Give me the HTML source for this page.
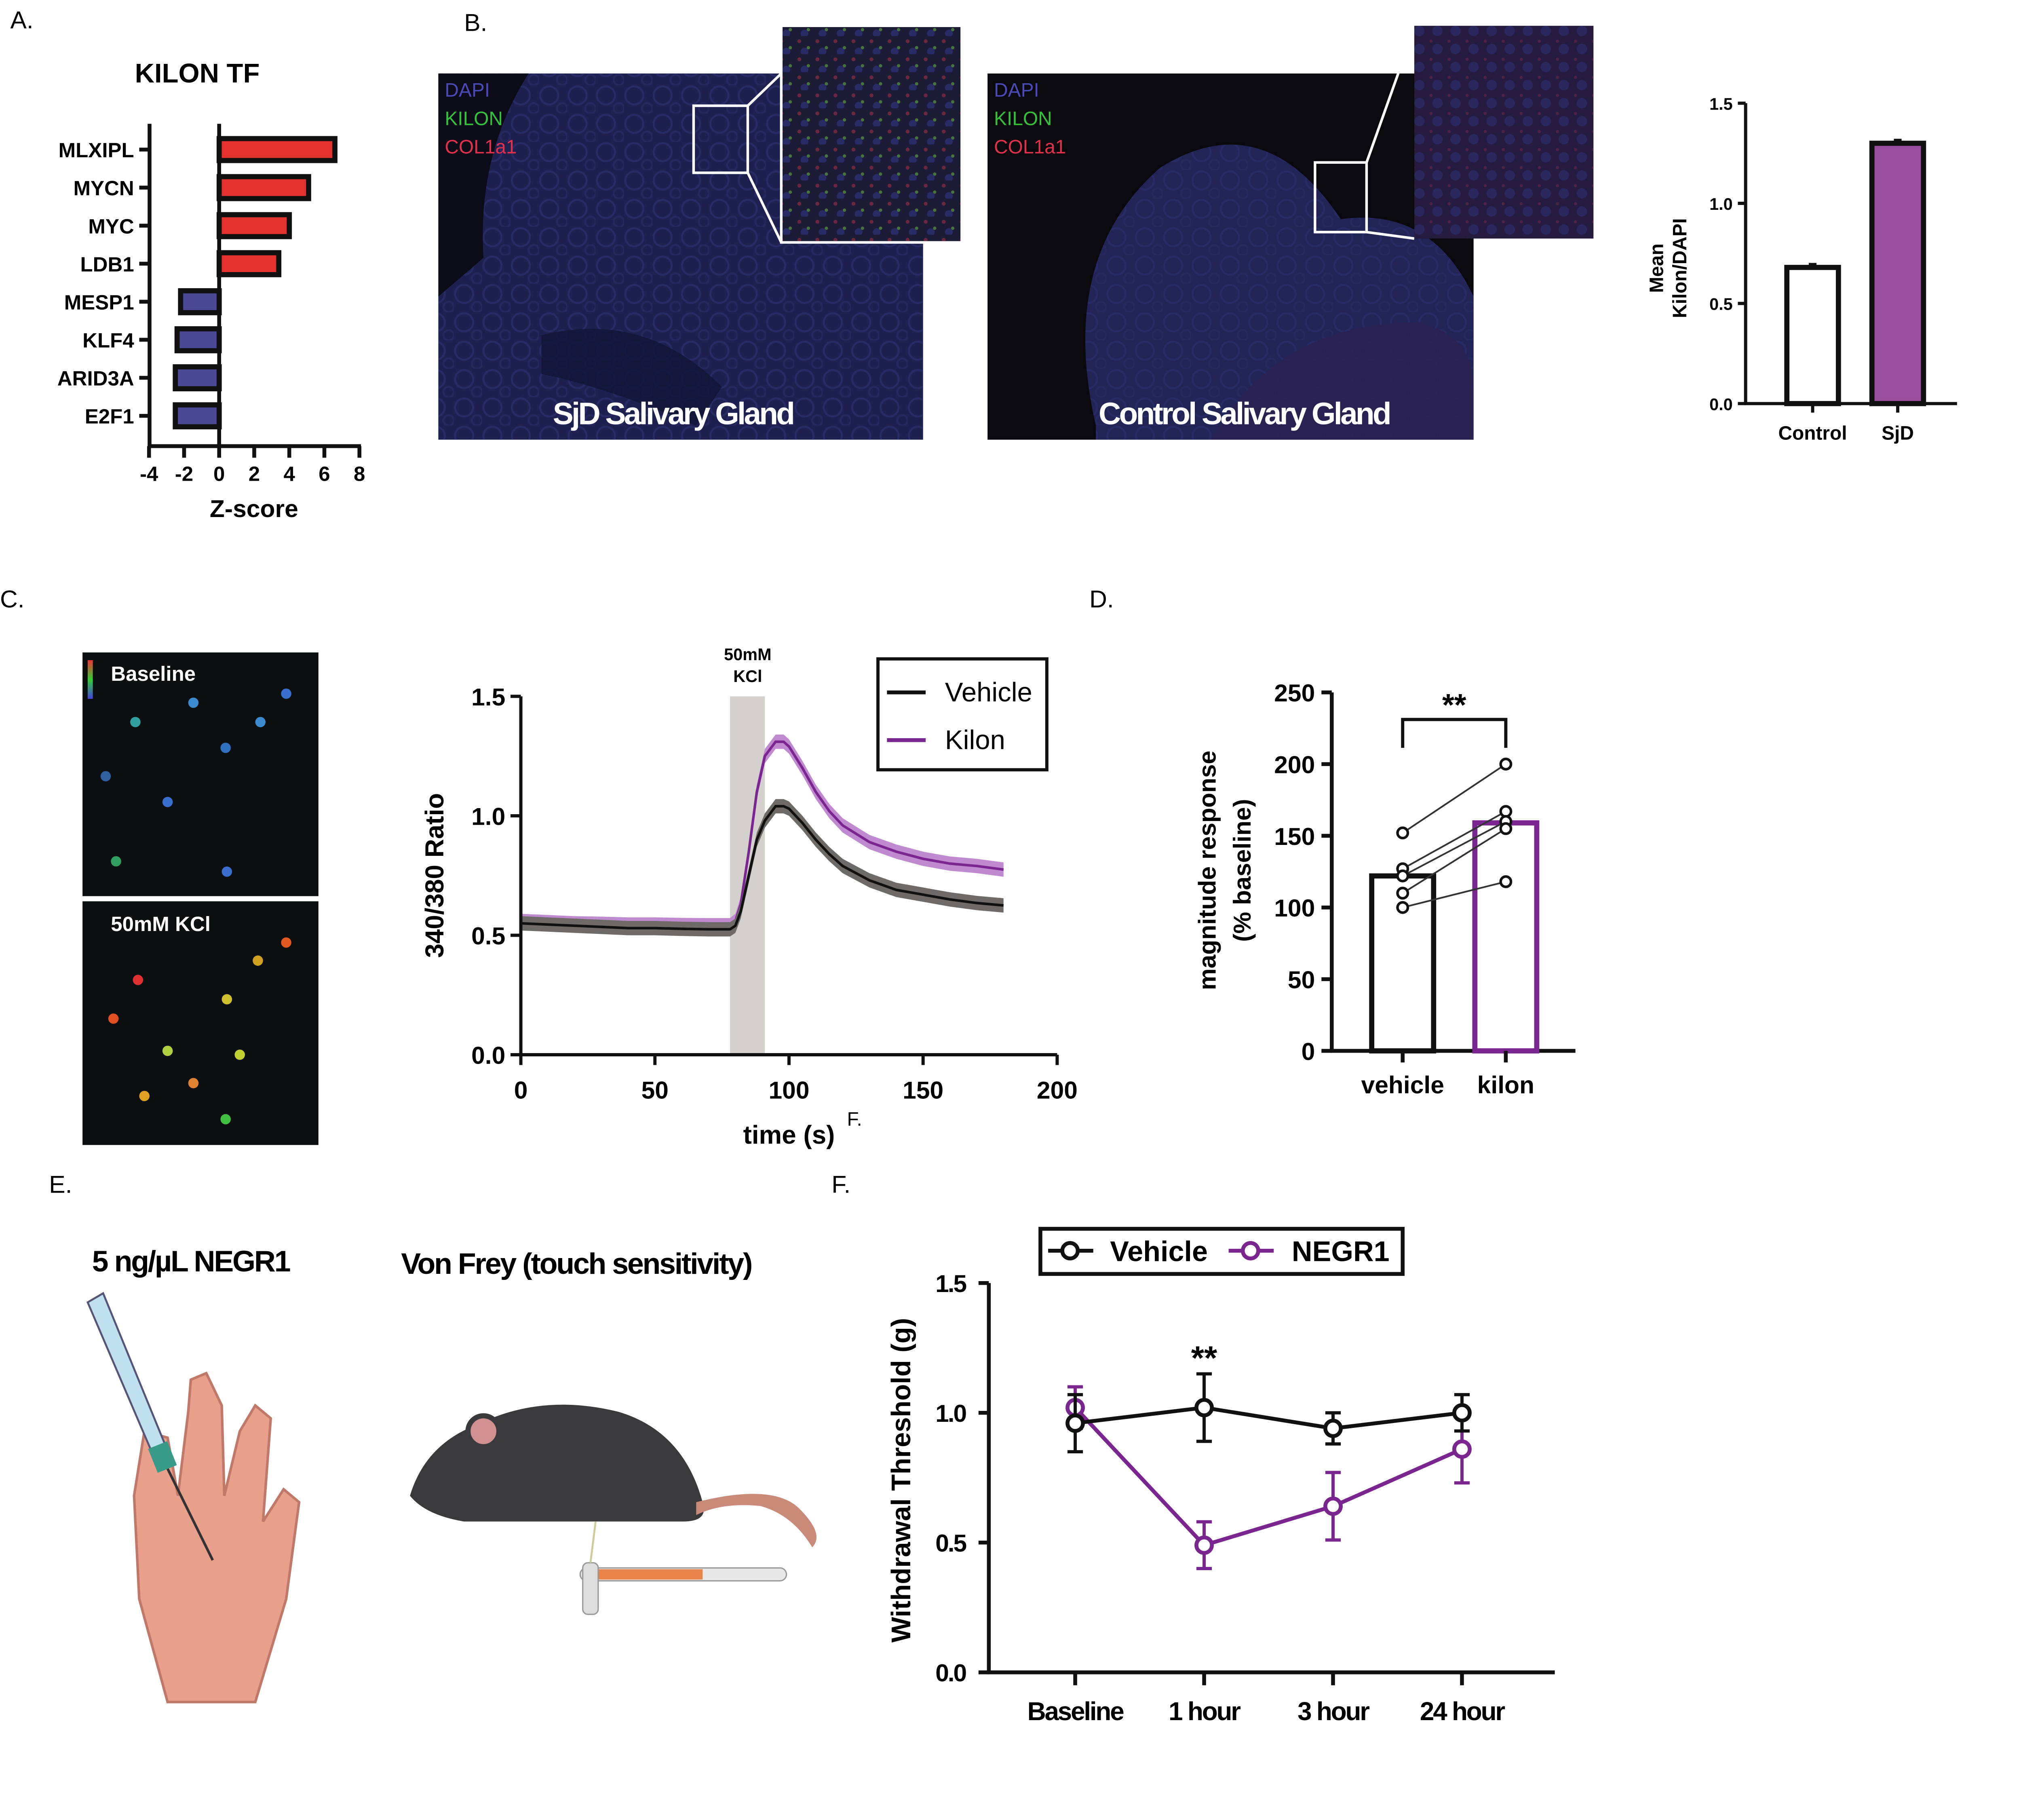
<!DOCTYPE html>
<html><head><meta charset="utf-8">
<style>
html,body{margin:0;padding:0;background:#fff;}
svg{display:block;font-family:"Liberation Sans",Arial,sans-serif;}
.b{font-weight:bold;}
</style></head>
<body>
<svg id="fig" width="5006" height="4502" viewBox="0 0 1569.5 1411.5" preserveAspectRatio="none" xmlns="http://www.w3.org/2000/svg">
<defs>
<pattern id="tis1" width="22" height="22" patternUnits="userSpaceOnUse">
<circle cx="8" cy="8" r="7" fill="none" stroke="#2c3270" stroke-width="1.5"/>
<circle cx="18" cy="18" r="4" fill="none" stroke="#2a2e66" stroke-width="1.5"/>
</pattern>
<pattern id="tis2" width="14" height="14" patternUnits="userSpaceOnUse">
<circle cx="4" cy="4" r="1.5" fill="#902a44"/>
<circle cx="11" cy="9" r="1.3" fill="#5a9a40"/>
<circle cx="8" cy="12" r="3" fill="#2e3278"/>
</pattern>
<pattern id="tis3" width="14" height="14" patternUnits="userSpaceOnUse">
<circle cx="4" cy="4" r="1.2" fill="#6a2448"/>
<circle cx="9" cy="10" r="4" fill="#2c2f70"/>
</pattern>
<clipPath id="ctlclip"><rect x="766" y="57" width="377" height="284"/></clipPath>
<linearGradient id="rainbow" x1="0" y1="0" x2="0" y2="1"><stop offset="0" stop-color="#e33"/><stop offset="0.5" stop-color="#3c3"/><stop offset="1" stop-color="#44d"/></linearGradient>
</defs>
<!-- Panel labels -->
<text x="8" y="22" font-size="19">A.</text>
<text x="360" y="24" font-size="19">B.</text>
<text x="0" y="471" font-size="19">C.</text>
<text x="845" y="471" font-size="19">D.</text>
<text x="38" y="925" font-size="19">E.</text>
<text x="645" y="925" font-size="19">F.</text>

<!-- Panel A -->
<g id="panelA">
<text x="153" y="64" font-size="21" class="b" text-anchor="middle">KILON TF</text>
<text x="197" y="401" font-size="19" class="b" text-anchor="middle">Z-score</text>
</g>

<!-- Panel B -->
<g id="panelB">
<rect x="340" y="57" width="376" height="284" fill="#1e2050"/>
<rect x="340" y="57" width="376" height="284" fill="url(#tis1)" opacity="0.6"/>
<path d="M340,57 L410,57 Q370,120 375,200 L340,230 Z" fill="#0c0c18"/>
<path d="M420,260 Q500,240 560,300 L540,330 Q470,300 420,290 Z" fill="#101230" opacity="0.7"/>
<rect x="538" y="82" width="42" height="52" fill="none" stroke="#fff" stroke-width="2"/>
<line x1="580" y1="82" x2="606" y2="57" stroke="#fff" stroke-width="2"/>
<line x1="580" y1="134" x2="606" y2="188" stroke="#fff" stroke-width="2"/>
<rect x="606" y="20" width="140" height="168" fill="#1c1c36" stroke="#fff" stroke-width="2"/>
<rect x="607" y="21" width="138" height="166" fill="url(#tis2)" opacity="0.7"/>
<text x="345" y="75" font-size="15" fill="#4b4ab8">DAPI</text>
<text x="345" y="97" font-size="15" fill="#34c23a">KILON</text>
<text x="345" y="119" font-size="15" fill="#e0304a">COL1a1</text>
<text x="522" y="329" font-size="24" fill="#fff" class="b" text-anchor="middle" letter-spacing="-1.5">SjD Salivary Gland</text>

<rect x="766" y="57" width="377" height="284" fill="#0a0a0e"/>
<g clip-path="url(#ctlclip)">
<path d="M850,330 Q820,200 900,130 Q980,80 1040,170 Q1110,160 1143,230 L1143,341 L850,341 Z" fill="#222456"/>
<path d="M850,330 Q820,200 900,130 Q980,80 1040,170 Q1110,160 1143,230 L1143,341 L850,341 Z" fill="url(#tis1)" opacity="0.5"/>
<path d="M940,341 Q990,250 1100,250 Q1143,260 1143,300 L1143,341 Z" fill="#2a2050" opacity="0.8"/>
</g>
<rect x="1020" y="126" width="40" height="54" fill="none" stroke="#fff" stroke-width="2"/>
<line x1="1060" y1="126" x2="1097" y2="22" stroke="#fff" stroke-width="2"/>
<line x1="1060" y1="180" x2="1097" y2="185" stroke="#fff" stroke-width="2"/>
<rect x="1097" y="20" width="139" height="165" fill="#261c40"/>
<rect x="1097" y="20" width="139" height="165" fill="url(#tis3)" opacity="0.6"/>
<text x="771" y="75" font-size="15" fill="#4b4ab8">DAPI</text>
<text x="771" y="97" font-size="15" fill="#34c23a">KILON</text>
<text x="771" y="119" font-size="15" fill="#e0304a">COL1a1</text>
<text x="965" y="329" font-size="24" fill="#fff" class="b" text-anchor="middle" letter-spacing="-1.5">Control Salivary Gland</text>
</g>

<g id="panelBbar">
<text transform="translate(1290,208) rotate(-90)" font-size="15" class="b" text-anchor="middle"><tspan x="0" dy="0">Mean</tspan><tspan x="0" dy="18">Kilon/DAPI</tspan></text>
</g>

<!-- Panel C -->
<g id="panelC">
<rect x="64" y="506" width="183" height="189" fill="#0c0f10"/>
<rect x="64" y="699" width="183" height="189" fill="#0c0f10"/>
<rect x="68" y="512" width="4" height="30" fill="url(#rainbow)"/>
<text x="86" y="528" font-size="16" fill="#fff" class="b">Baseline</text>
<text x="86" y="722" font-size="16" fill="#fff" class="b">50mM KCl</text>
<g id="dots"></g>
</g>
<g id="panelCchart">
<text transform="translate(344,679) rotate(-90)" font-size="20" class="b" text-anchor="middle">340/380 Ratio</text>
<text x="612" y="887" font-size="20" class="b" text-anchor="middle">time (s)</text>
<text x="657" y="873" font-size="15">F.</text>
<text x="580" y="512" font-size="13" class="b" text-anchor="middle">50mM</text>
<text x="580" y="529" font-size="13" class="b" text-anchor="middle">KCl</text>
<rect x="681" y="511" width="131" height="86" fill="#fff" stroke="#111" stroke-width="2.5"/>
<line x1="688" y1="537" x2="718" y2="537" stroke="#111" stroke-width="3"/>
<text x="733" y="544" font-size="21">Vehicle</text>
<line x1="688" y1="574" x2="718" y2="574" stroke="#7b2590" stroke-width="3"/>
<text x="733" y="581" font-size="21">Kilon</text>
</g>

<!-- Panel D -->
<g id="panelD">
<text transform="translate(943,675) rotate(-90)" font-size="19" class="b" text-anchor="middle"><tspan x="0" dy="0">magnitude response</tspan><tspan x="0" dy="27">(% baseline)</tspan></text>
</g>

<!-- Panel E -->
<g id="panelE">
<text x="148" y="986" font-size="23" class="b" text-anchor="middle" letter-spacing="-1">5 ng/µL NEGR1</text>
<text x="447" y="988" font-size="23" class="b" text-anchor="middle" letter-spacing="-1">Von Frey (touch sensitivity)</text>
<g>
<path d="M130,1320 L108,1240 L104,1160 L112,1110 L130,1115 L138,1160 L146,1095 L148,1070 L160,1065 L172,1090 L174,1160 L186,1110 L198,1090 L210,1100 L204,1180 L220,1155 L232,1165 L222,1240 L198,1320 Z" fill="#e8a08a" stroke="#c07868" stroke-width="2"/>
<path d="M68,1010 L80,1003 L132,1130 L122,1136 Z" fill="#bfe0ee" stroke="#557" stroke-width="1.5"/>
<line x1="128" y1="1135" x2="165" y2="1210" stroke="#333" stroke-width="2"/>
<rect x="118" y="1120" width="16" height="20" fill="#3a9a8a" transform="rotate(-22 126 1130)"/>
</g>
<g>
<path d="M318,1160 Q330,1120 370,1105 Q420,1080 480,1095 Q530,1110 545,1165 Q550,1180 530,1180 L360,1180 Q330,1175 318,1160 Z" fill="#3a3a3c"/>
<circle cx="375" cy="1110" r="12" fill="#d09090" stroke="#3a3a3c" stroke-width="4"/>
<path d="M540,1165 Q600,1150 620,1170 Q640,1190 630,1200 Q615,1175 590,1168 Q560,1165 540,1175 Z" fill="#c98a7a"/>
<rect x="450" y="1216" width="160" height="10" rx="5" fill="#e8e8e8" stroke="#999"/>
<rect x="460" y="1217" width="85" height="8" fill="#e8844a"/>
<rect x="452" y="1212" width="12" height="40" rx="4" fill="#ddd" stroke="#999"/>
<line x1="462" y1="1180" x2="458" y2="1212" stroke="#cc9" stroke-width="1.5"/>
</g>
</g>

<!-- Panel F -->
<g id="panelF">
<text transform="translate(706,1148) rotate(-90)" font-size="21" class="b" text-anchor="middle">Withdrawal Threshold (g)</text>
<rect x="807" y="953" width="281" height="35" fill="#fff" stroke="#111" stroke-width="3"/>
<line x1="813" y1="970" x2="848" y2="970" stroke="#111" stroke-width="3"/>
<circle cx="830" cy="970" r="6" fill="#fff" stroke="#111" stroke-width="3"/>
<text x="861" y="978" font-size="22" class="b">Vehicle</text>
<line x1="953" y1="970" x2="988" y2="970" stroke="#7b2590" stroke-width="3"/>
<circle cx="970" cy="970" r="6" fill="#fff" stroke="#7b2590" stroke-width="3"/>
<text x="1002" y="978" font-size="22" class="b">NEGR1</text>
</g>
</svg>

<script>
// ---- Panel A data ----
var tfNames=["MLXIPL","MYCN","MYC","LDB1","MESP1","KLF4","ARID3A","E2F1"];
var tfZ=[6.6,5.1,4.0,3.4,-2.2,-2.4,-2.5,-2.5];
var zTicks=[-4,-2,0,2,4,6,8];

// ---- Panel B bar data ----
var bCats=["Control","SjD"];
var bVals=[0.68,1.30];
var bTicks=[0,0.5,1.0,1.5];

// ---- Panel C trace data ----
var cTime=[0,10,20,30,40,50,60,70,78,80,82,85,88,91,95,98,100,105,110,115,120,130,140,150,160,170,180];
var cVehicle=[0.55,0.545,0.54,0.535,0.53,0.53,0.527,0.525,0.525,0.54,0.6,0.75,0.9,0.98,1.04,1.04,1.03,0.97,0.9,0.84,0.79,0.73,0.69,0.67,0.65,0.635,0.625];
var cKilon=[0.56,0.555,0.55,0.548,0.545,0.545,0.543,0.542,0.542,0.56,0.63,0.85,1.1,1.25,1.31,1.31,1.29,1.2,1.1,1.02,0.96,0.89,0.85,0.82,0.80,0.79,0.775];
var cXTicks=[0,50,100,150,200];
var cYTicks=[0,0.5,1.0,1.5];
var kclStart=78, kclEnd=91;

// ---- Panel D data ----
var dCats=["vehicle","kilon"];
var dMeans=[122,159];
var dVehiclePts=[152,127,122,110,100];
var dKilonPts=[200,167,160,155,118];
var dTicks=[0,50,100,150,200,250];

// ---- Panel F data ----
var fCats=["Baseline","1 hour","3 hour","24 hour"];
var fVehicle=[0.96,1.02,0.94,1.00];
var fVehicleErr=[0.11,0.13,0.06,0.07];
var fNegr1=[1.02,0.49,0.64,0.86];
var fNegr1Err=[0.08,0.09,0.13,0.13];
var fTicks=[0,0.5,1.0,1.5];

var NS="http://www.w3.org/2000/svg";
function mk(parent,tag,attrs){var e=document.createElementNS(NS,tag);for(var k in attrs)e.setAttribute(k,attrs[k]);parent.appendChild(e);return e;}

// ===== Panel A =====
(function(){
var g=document.getElementById('panelA');
var xs=function(v){return 170+(v)*13.6;};
var ys=function(i){return 116+i*29.5;};
mk(g,'line',{x1:116,y1:96,x2:116,y2:347,stroke:'#111','stroke-width':3});
mk(g,'line',{x1:115,y1:346,x2:280,y2:346,stroke:'#111','stroke-width':3});
mk(g,'line',{x1:xs(0),y1:96,x2:xs(0),y2:346,stroke:'#111','stroke-width':3});
for(var i=0;i<zTicks.length;i++){
 var x=xs(zTicks[i]);
 mk(g,'line',{x1:x,y1:346,x2:x,y2:355,stroke:'#111','stroke-width':3});
 var t=mk(g,'text',{x:x,y:373,'font-size':16,'font-weight':'bold','text-anchor':'middle'});
 t.textContent=zTicks[i];
 
 
}
for(var i=0;i<tfNames.length;i++){
 var y=ys(i),v=tfZ[i];
 var x0=Math.min(xs(0),xs(v)),w=Math.abs(xs(v)-xs(0));
 var r=mk(g,'rect',{x:x0,y:y-8.5,width:w,height:17,fill:v>0?'#e4332e':'#4b4896',stroke:'#111','stroke-width':4});
 
 
 mk(g,'line',{x1:108,y1:y,x2:116,y2:y,stroke:'#111','stroke-width':3});
 var t=mk(g,'text',{x:104,y:y+6,'font-size':16,'font-weight':'bold','text-anchor':'end'});
 t.textContent=tfNames[i];
 
 
}
})();

// ===== Panel B bar chart =====
(function(){
var g=document.getElementById('panelBbar');
var ys=function(v){return 313-v*155.3;};
var bx=[1406,1472];
mk(g,'line',{x1:1354,y1:80,x2:1354,y2:314,stroke:'#111','stroke-width':2.5});
mk(g,'line',{x1:1353,y1:313,x2:1518,y2:313,stroke:'#111','stroke-width':2.5});
for(var i=0;i<bTicks.length;i++){
 var y=ys(bTicks[i]);
 mk(g,'line',{x1:1348,y1:y,x2:1354,y2:y,stroke:'#111','stroke-width':2.5});
 var t=mk(g,'text',{x:1344,y:y+5,'font-size':13,'font-weight':'bold','text-anchor':'end'});
 t.textContent=bTicks[i].toFixed(1);
 
 
}
for(var i=0;i<bCats.length;i++){
 var y=ys(bVals[i]);
 var r=mk(g,'rect',{x:bx[i]-20,y:y,width:40,height:313-y,fill:i?'#9a4e9e':'#fff',stroke:'#111','stroke-width':4});
 
 
 mk(g,'line',{x1:bx[i]-3,y1:y-2,x2:bx[i]+3,y2:y-2,stroke:'#111','stroke-width':3});
 mk(g,'line',{x1:bx[i],y1:313,x2:bx[i],y2:320,stroke:'#111','stroke-width':2.5});
 var t=mk(g,'text',{x:bx[i],y:341,'font-size':15,'font-weight':'bold','text-anchor':'middle'});
 t.textContent=bCats[i];
 
 
}
})();

// ===== Panel C dots (decorative) =====
(function(){
var g=document.getElementById('dots');
var d1=[[222,538,'#3a6fd0'],[202,560,'#3a8ad0'],[175,580,'#3070c0'],[130,622,'#3a6fd0'],[105,560,'#30a0a0'],[90,668,'#30a060'],[176,676,'#3a6fd0'],[150,545,'#3a8ad0'],[82,602,'#3060a0']];
var d2=[[222,731,'#e05a20'],[107,760,'#e03030'],[200,745,'#d0a020'],[176,775,'#d0c030'],[130,815,'#b0d040'],[88,790,'#e05020'],[175,868,'#40c040'],[150,840,'#e08030'],[112,850,'#e0a020'],[186,818,'#c0d030']];
d1.concat(d2).forEach(function(d){mk(g,'circle',{cx:d[0],cy:d[1],r:4,fill:d[2]});});
})();

// ===== Panel C chart =====
(function(){
var g=document.getElementById('panelCchart');
var xs=function(t){return 404+t*2.08;};
var ys=function(v){return 818-v*185.3;};
var band=mk(g,'rect',{x:xs(kclStart),y:ys(1.5),width:xs(kclEnd)-xs(kclStart),height:ys(0)-ys(1.5),fill:'#d4d0ce'});


function series(vals,col,shade,name){
 var top='',bot='';
 for(var i=0;i<cTime.length;i++){top+=(i?'L':'M')+xs(cTime[i])+','+ys(vals[i]+0.03);}
 for(var i=cTime.length-1;i>=0;i--){bot+='L'+xs(cTime[i])+','+ys(vals[i]-0.03);}
 var a=mk(g,'path',{d:top+bot+'Z',fill:shade});
 
 
 var d='';
 for(var i=0;i<cTime.length;i++){d+=(i?'L':'M')+xs(cTime[i])+','+ys(vals[i]);}
 var p=mk(g,'path',{d:d,fill:'none',stroke:col,'stroke-width':2});
 
 
}
series(cKilon,'#7b2590','#c08ad0','kilon');
series(cVehicle,'#111','#6e6a68','vehicle');
mk(g,'line',{x1:404,y1:ys(1.5),x2:404,y2:819,stroke:'#111','stroke-width':2.5});
mk(g,'line',{x1:403,y1:818,x2:xs(200),y2:818,stroke:'#111','stroke-width':2.5});
for(var i=0;i<cYTicks.length;i++){
 var y=ys(cYTicks[i]);
 mk(g,'line',{x1:396,y1:y,x2:404,y2:y,stroke:'#111','stroke-width':2.5});
 var t=mk(g,'text',{x:392,y:y+7,'font-size':19,'font-weight':'bold','text-anchor':'end'});
 t.textContent=cYTicks[i].toFixed(1);
 
 
}
for(var i=0;i<cXTicks.length;i++){
 var x=xs(cXTicks[i]);
 mk(g,'line',{x1:x,y1:818,x2:x,y2:826,stroke:'#111','stroke-width':2.5});
 var t=mk(g,'text',{x:x,y:852,'font-size':19,'font-weight':'bold','text-anchor':'middle'});
 t.textContent=cXTicks[i];
 
 
}
})();

// ===== Panel D =====
(function(){
var g=document.getElementById('panelD');
var ys=function(v){return 815-v*1.112;};
var bx=[1088,1168];
mk(g,'line',{x1:1033,y1:ys(250),x2:1033,y2:816,stroke:'#111','stroke-width':3});
mk(g,'line',{x1:1032,y1:815,x2:1222,y2:815,stroke:'#111','stroke-width':3});
for(var i=0;i<dTicks.length;i++){
 var y=ys(dTicks[i]);
 mk(g,'line',{x1:1025,y1:y,x2:1033,y2:y,stroke:'#111','stroke-width':3});
 var t=mk(g,'text',{x:1020,y:y+7,'font-size':19,'font-weight':'bold','text-anchor':'end'});
 t.textContent=dTicks[i];
 
 
}
for(var i=0;i<dCats.length;i++){
 var y=ys(dMeans[i]);
 var r=mk(g,'rect',{x:bx[i]-24,y:y,width:48,height:815-y,fill:'#fff',stroke:i?'#7b2590':'#111','stroke-width':4});
 
 
 mk(g,'line',{x1:bx[i],y1:815,x2:bx[i],y2:824,stroke:'#111','stroke-width':3});
 var t=mk(g,'text',{x:bx[i],y:848,'font-size':19,'font-weight':'bold','text-anchor':'middle'});
 t.textContent=dCats[i];
 
 
}
for(var j=0;j<dVehiclePts.length;j++){
 var l=mk(g,'line',{x1:bx[0],y1:ys(dVehiclePts[j]),x2:bx[1],y2:ys(dKilonPts[j]),stroke:'#333','stroke-width':1.3});
 
 
}
for(var j=0;j<dVehiclePts.length;j++){
 var c=mk(g,'circle',{cx:bx[0],cy:ys(dVehiclePts[j]),r:4,fill:'#fff',stroke:'#111','stroke-width':2});
 
 
 var c2=mk(g,'circle',{cx:bx[1],cy:ys(dKilonPts[j]),r:4,fill:'#fff',stroke:'#111','stroke-width':2});
 
 
}
var br=mk(g,'path',{d:'M1088,580 L1088,558 L1168,558 L1168,580',fill:'none',stroke:'#111','stroke-width':2.5});


var s=mk(g,'text',{x:1128,y:555,'font-size':24,'font-weight':'bold','text-anchor':'middle'});
s.textContent='**';


})();

// ===== Panel F =====
(function(){
var g=document.getElementById('panelF');
var ys=function(v){return 1297-v*201.3;};
var xs=function(i){return 834+i*100;};
mk(g,'line',{x1:767,y1:ys(1.5),x2:767,y2:1298,stroke:'#111','stroke-width':3});
mk(g,'line',{x1:766,y1:1297,x2:1206,y2:1297,stroke:'#111','stroke-width':3});
for(var i=0;i<fTicks.length;i++){
 var y=ys(fTicks[i]);
 mk(g,'line',{x1:759,y1:y,x2:767,y2:y,stroke:'#111','stroke-width':3});
 var t=mk(g,'text',{x:749,y:y+7,'font-size':19,'font-weight':'bold','text-anchor':'end','letter-spacing':'-1'});
 t.textContent=fTicks[i].toFixed(1);
 
 
}
for(var i=0;i<fCats.length;i++){
 var x=xs(i);
 mk(g,'line',{x1:x,y1:1297,x2:x,y2:1307,stroke:'#111','stroke-width':3});
 var t=mk(g,'text',{x:x,y:1334,'font-size':20,'font-weight':'bold','text-anchor':'middle','letter-spacing':'-1'});
 t.textContent=fCats[i];
 
 
}
function series(vals,errs,col,name){
 var d='';
 for(var i=0;i<vals.length;i++){d+=(i?'L':'M')+xs(i)+','+ys(vals[i]);}
 var p=mk(g,'path',{d:d,fill:'none',stroke:col,'stroke-width':3});
 
 
 for(var i=0;i<vals.length;i++){
  var x=xs(i),y1=ys(vals[i]+errs[i]),y2=ys(vals[i]-errs[i]);
  var e=mk(g,'path',{d:'M'+x+','+y1+'L'+x+','+y2+'M'+(x-6)+','+y1+'L'+(x+6)+','+y1+'M'+(x-6)+','+y2+'L'+(x+6)+','+y2,stroke:col,'stroke-width':2.5,fill:'none'});
  
  
  var c=mk(g,'circle',{cx:x,cy:ys(vals[i]),r:6,fill:'#fff',stroke:col,'stroke-width':3});
  
  
 }
}
series(fNegr1,fNegr1Err,'#7b2590','negr1');
series(fVehicle,fVehicleErr,'#111','vehicle');
var s=mk(g,'text',{x:xs(1),y:1062,'font-size':26,'font-weight':'bold','text-anchor':'middle'});
s.textContent='**';


})();
</script>
</body></html>
